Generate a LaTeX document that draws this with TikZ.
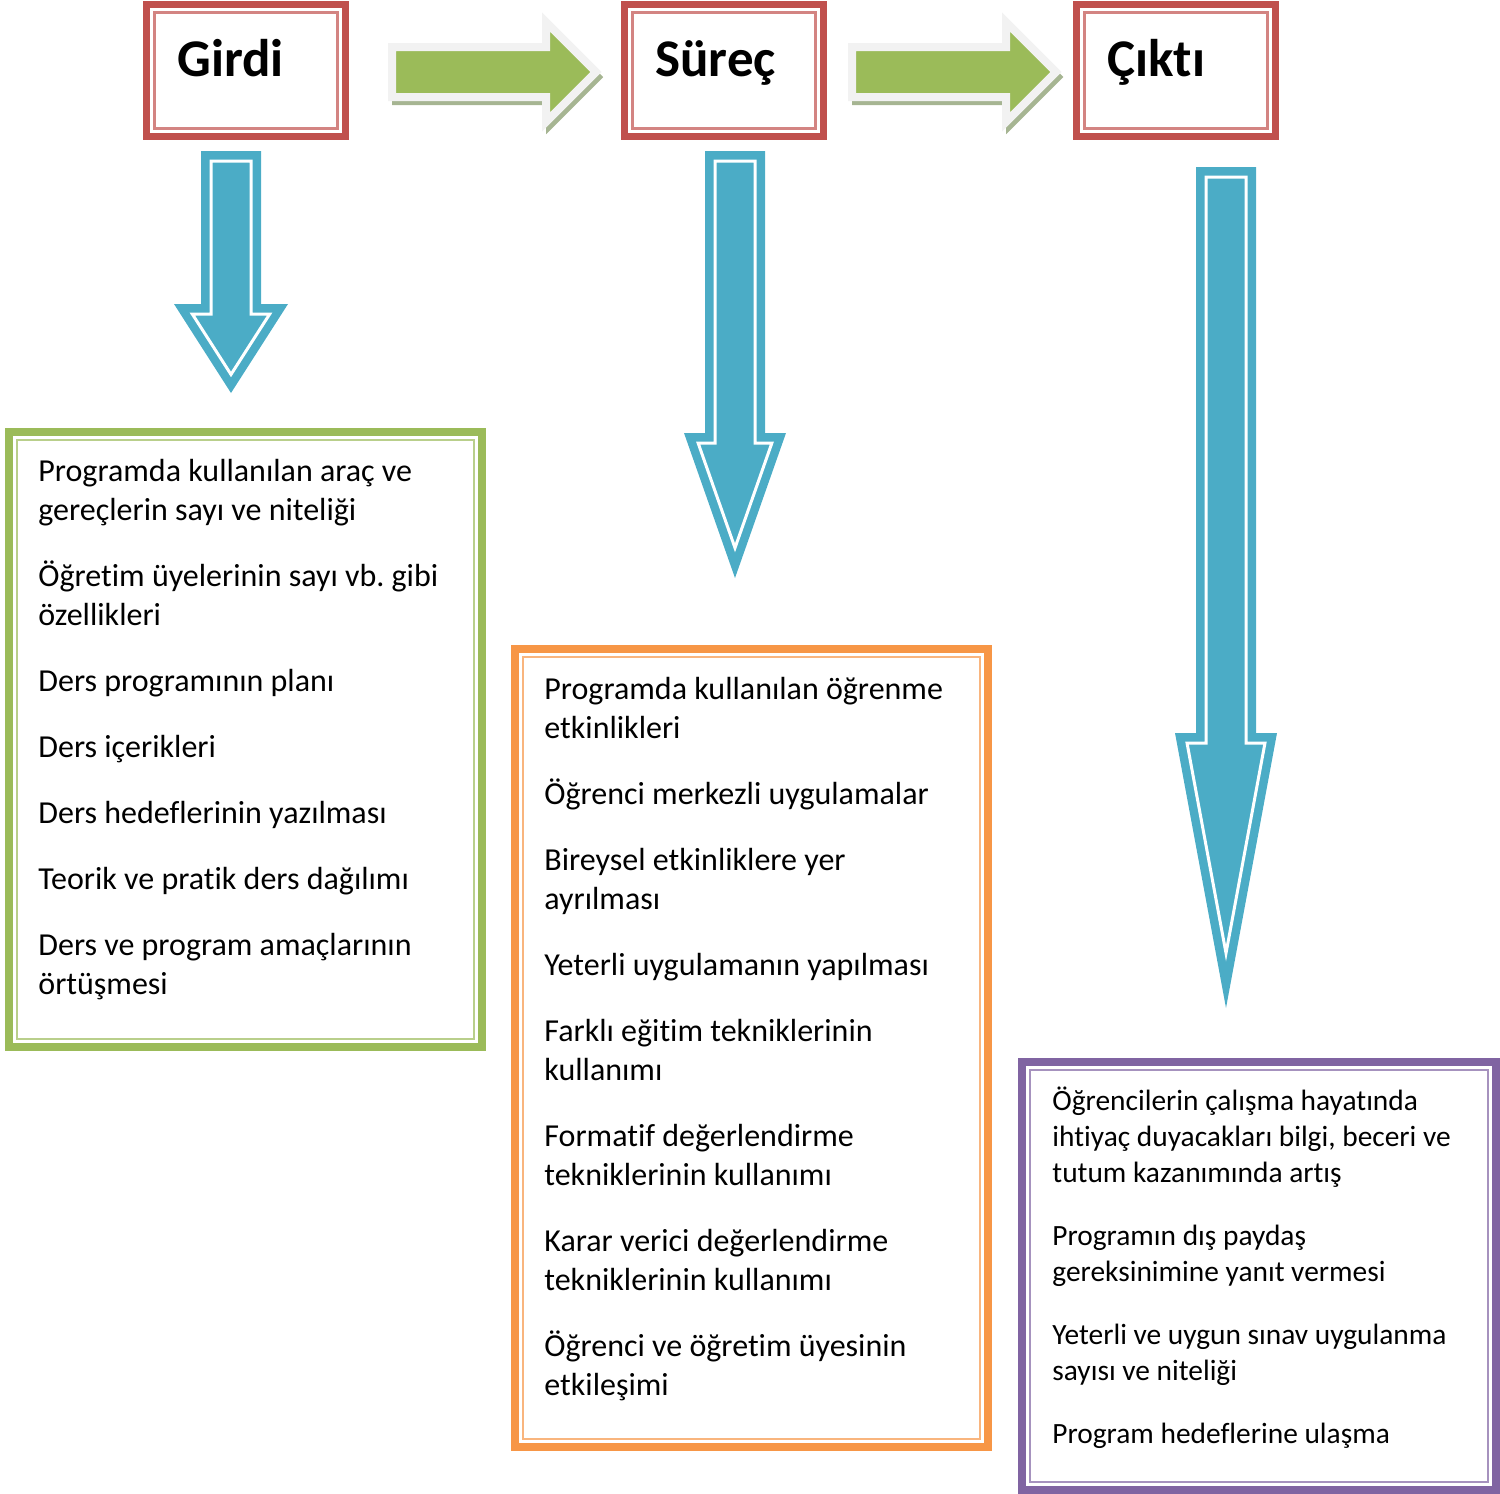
\documentclass[tikz,border=0pt]{standalone}
\usepackage{fontspec}
\setmainfont{Carlito}[Ligatures=NoCommon]
\usetikzlibrary{positioning}
\definecolor{kirmizi}{HTML}{C0504D}
\definecolor{yesil}{HTML}{9BBB59}
\definecolor{turuncu}{HTML}{F79646}
\definecolor{mor}{HTML}{8064A2}
\definecolor{mavi}{HTML}{4BACC6}
\definecolor{acikgri}{HTML}{F2F2F2}
\definecolor{golge}{RGB}{166,181,146}
\tikzset{
    %Define style for header boxes
    baslik/.style={
           rectangle,
           draw=kirmizi, line width=3.5pt,
           inner sep=0pt, outer sep=0pt,
           minimum width=99.5pt,
           minimum height=66pt,
           anchor=north west},
    baslikyazi/.style={
           font=\fontsize{26.5}{32}\selectfont\bfseries,
           inner sep=0pt,
           anchor=base west},
    %Define style for list boxes
    kutu/.style={
           rectangle,
           draw=#1, line width=4pt,
           inner sep=0pt, outer sep=0pt,
           anchor=north west},
    ince/.style={
           draw=#1!70!white, line width=1.25pt},
    liste/.style={
           font=\fontsize{16}{19.5}\selectfont,
           align=left,
           inner sep=0pt,
           anchor=north west},
    % Define arrow styles
    mavipil/.style={
           fill=mavi, draw=mavi,
           double=white, double distance=1.5pt,
           line width=4.25pt},
    yesilpil/.style={
           fill=yesil, draw=acikgri, line width=4pt},
    golgepil/.style={
           fill=golge, draw=golge, line width=3pt}
}
% down arrow: x, top, head base, head half width, tip
\newcommand{\asagipil}[5]{%
  \pgfmathsetmacro{\uci}{#5-10/sin(atan(#4/(#5-#3)))}
  \pgfmathsetmacro{\yi}{(\uci-#3-10)*#4/(#5-#3)}
  \draw[mavipil] (#1-20,#2+10) -- (#1+20,#2+10) -- (#1+20,#3+10) -- (#1+\yi,#3+10)
     -- (#1,\uci) -- (#1-\yi,#3+10) -- (#1-20,#3+10) -- cycle;
}
\begin{document}
\begin{tikzpicture}[x=0.5pt,y=-0.5pt]
\useasboundingbox (0,0) rectangle (1500,1494);

 %header boxes
\node[baslik] (girdi) at (146.5,4.5) {};
\node[baslik] (surec) at (624.5,4.5) {};
\node[baslik] (cikti) at (1076.5,4.5) {};
\node[baslikyazi] (girdiYazi) at (177,76) {Girdi};
\node[baslikyazi] (surecYazi) at (655,76) {Süreç};
\node[baslikyazi] (ciktiYazi) at (1107,76) {Çıktı};

 %list boxes
\node[kutu=yesil, minimum width=236.5pt, minimum height=307.5pt] (girdiler) at (9,432) {};
\node[kutu=turuncu, minimum width=236.5pt, minimum height=399pt] (surecler) at (515,649) {};
\node[kutu=mor, minimum width=237pt, minimum height=214pt] (ciktilar) at (1022,1062) {};

\foreach \n/\c in {girdi/kirmizi,surec/kirmizi,cikti/kirmizi,girdiler/yesil,surecler/turuncu,ciktilar/mor}
  \draw[ince=\c] ([xshift=4pt,yshift=-4pt]\n.north west) rectangle ([xshift=-4pt,yshift=4pt]\n.south east);

\node[liste] (girdiListe) at (38,453) {\rule{0pt}{14pt}Programda kullanılan araç ve\\ gereçlerin sayı ve niteliği\\[13.5pt]
  Öğretim üyelerinin sayı vb.\ gibi\\ özellikleri\\[13.5pt]
  Ders programının planı\\[13.5pt]
  Ders içerikleri\\[13.5pt]
  Ders hedeflerinin yazılması\\[13.5pt]
  Teorik ve pratik ders dağılımı\\[13.5pt]
  Ders ve program amaçlarının\\ örtüşmesi};
\node[liste] (surecListe) at (544,671) {\rule{0pt}{14pt}Programda kullanılan öğrenme\\ etkinlikleri\\[13.5pt]
  Öğrenci merkezli uygulamalar\\[13.5pt]
  Bireysel etkinliklere yer\\ ayrılması\\[13.5pt]
  Yeterli uygulamanın yapılması\\[13.5pt]
  Farklı eğitim tekniklerinin\\ kullanımı\\[13.5pt]
  Formatif değerlendirme\\ tekniklerinin kullanımı\\[13.5pt]
  Karar verici değerlendirme\\ tekniklerinin kullanımı\\[13.5pt]
  Öğrenci ve öğretim üyesinin\\ etkileşimi};
\node[liste, font=\fontsize{14.7}{18}\selectfont] (ciktiListe) at (1052,1082) {\rule{0pt}{14pt}Öğrencilerin çalışma hayatında\\ ihtiyaç duyacakları bilgi, beceri ve\\ tutum kazanımında artış\\[13.5pt]
  Programın dış paydaş\\ gereksinimine yanıt vermesi\\[13.5pt]
  Yeterli ve uygun sınav uygulanma\\ sayısı ve niteliği\\[13.5pt]
  Program hedeflerine ulaşma};

 %green arrows
\foreach \dx in {0,460} {
  \begin{scope}[shift={(\dx,0)}]
    \draw[golgepil, shift={(3,5)}] (392,47) -- (546,47) -- (546,22) -- (596,72) -- (546,122) -- (546,97) -- (392,97) -- cycle;
    \draw[yesilpil] (392,47) -- (546,47) -- (546,22) -- (596,72) -- (546,122) -- (546,97) -- (392,97) -- cycle;
  \end{scope}
}

 %blue arrows
\asagipil{231}{151}{304}{57}{393}
\asagipil{735}{151}{433}{51}{578}
\asagipil{1226}{167}{733}{51}{1008}

\end{tikzpicture}
\end{document}
